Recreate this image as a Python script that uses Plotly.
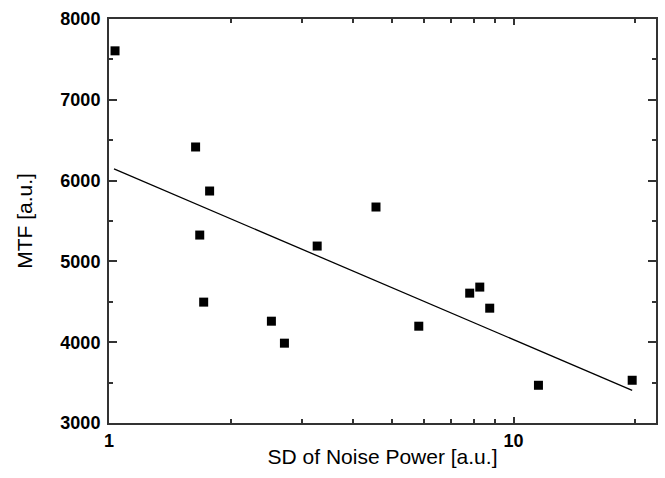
import plotly.graph_objects as go

noise_sd = [1.035, 1.637, 1.773, 1.676, 1.714, 2.52, 2.714, 3.27, 4.57, 5.83, 7.79, 8.25, 8.73, 11.52, 19.64]
mtf = [7606, 6416, 5871, 5326, 4496, 4260, 3988, 5190, 5673, 4198, 4607, 4682, 4421, 3467, 3529]

fit_x = [1.029, 19.64]
fit_y = [6144, 3405]

x_major = [1, 10]
x_minor = [2, 3, 4, 5, 6, 7, 8, 9, 20]
y_major = [3000, 4000, 5000, 6000, 7000, 8000]

fig = go.Figure()
fig.add_trace(go.Scatter(x=fit_x, y=fit_y, mode="lines",
                         line=dict(color="black", width=1.3), showlegend=False))
fig.add_trace(go.Scatter(x=noise_sd, y=mtf, mode="markers",
                         marker=dict(symbol="square", size=9, color="black"),
                         showlegend=False))

axis_common = dict(showline=True, linecolor="#333", linewidth=2, mirror="ticks",
                   ticks="inside", tickcolor="#333", tickwidth=1.5, showgrid=False,
                   zeroline=False)

fig.update_layout(
    width=665, height=478,
    margin=dict(l=109, r=7, t=19, b=55),
    paper_bgcolor="white", plot_bgcolor="white",
    font=dict(family="Liberation Sans, Arial", color="black"),
    xaxis=dict(type="log", range=[0, 1.352], tickvals=x_major, ticktext=["1", "10"],
               ticklen=6,
               minor=dict(tickvals=x_minor, ticks="inside", ticklen=4, tickcolor="#333", tickwidth=1.5),
               tickfont=dict(size=18, weight="bold", family="Liberation Sans, Arial"),
               title=dict(text="SD of Noise Power [a.u.]", font=dict(size=21), standoff=0),
               **axis_common),
    yaxis=dict(range=[3000, 8000], tickvals=y_major, ticklen=8, ticklabelstandoff=3,
               minor=dict(dtick=500, ticks="inside", ticklen=4, tickcolor="#333", tickwidth=1.5),
               tickfont=dict(size=18, weight="bold", family="Liberation Sans, Arial"),
               title=dict(text="MTF [a.u.]", font=dict(size=21), standoff=22),
               **axis_common),
)

fig.write_html("out.html")
